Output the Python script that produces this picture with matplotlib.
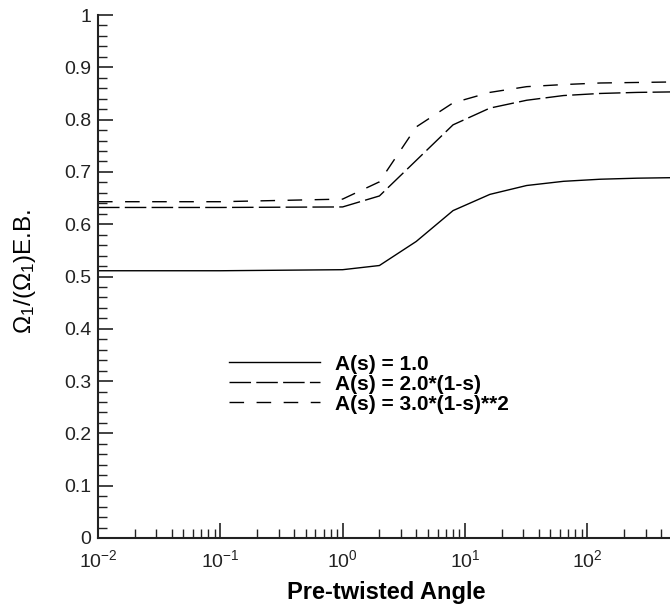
import numpy as np
import matplotlib
matplotlib.use("Agg")
from matplotlib import pyplot as plt
from matplotlib.ticker import LogLocator, MultipleLocator

plt.rcParams["font.family"] = ["Liberation Sans", "DejaVu Sans"]
plt.rcParams["mathtext.fontset"] = "custom"
plt.rcParams["mathtext.rm"] = "Liberation Sans"
plt.rcParams["mathtext.it"] = "Liberation Sans:italic"
plt.rcParams["mathtext.bf"] = "Liberation Sans:bold"

# pre-twisted angle samples
angle = [0.01, 0.1, 1, 2, 4, 8, 16, 32, 64, 128, 256, 512]
ratio_const = [0.511, 0.511, 0.513, 0.521, 0.567, 0.626, 0.657, 0.674, 0.682, 0.686, 0.688, 0.689]
ratio_linear = [0.632, 0.632, 0.633, 0.654, 0.722, 0.790, 0.822, 0.837, 0.846, 0.850, 0.852, 0.853]
ratio_quad = [0.643, 0.643, 0.648, 0.681, 0.786, 0.832, 0.852, 0.863, 0.867, 0.870, 0.871, 0.872]

labels = ["A(s) = 1.0", "A(s) = 2.0*(1-s)", "A(s) = 3.0*(1-s)**2"]
decades = [1e-2, 1e-1, 1e0, 1e1, 1e2, 1e3]
decade_labels = [r"$\mathregular{10^{-2}}$", r"$\mathregular{10^{-1}}$", r"$\mathregular{10^{0}}$",
                 r"$\mathregular{10^{1}}$", r"$\mathregular{10^{2}}$", ""]

W, H = 670, 611
fig = plt.figure(figsize=(W / 100, H / 100), dpi=100)
# axes runs past the right edge of the figure (cut off like the original)
left, right, top, bottom = 98, 709.5, 15, 538
ax = fig.add_axes([left / W, 1 - bottom / H, (right - left) / W, (bottom - top) / H])

ax.plot(angle, ratio_const, color="black", linewidth=1.0, linestyle="-")
ax.plot(angle, ratio_linear, color="black", linewidth=1.0, linestyle=(0, (15.5, 3.8)))
ax.plot(angle, ratio_quad, color="black", linewidth=1.0, linestyle=(0, (10.5, 9.0)))

ax.set_xscale("log")
ax.set_xlim(1e-2, 1e3)
ax.set_ylim(0, 1)

ax.yaxis.set_minor_locator(MultipleLocator(0.02))
ax.set_yticks(np.arange(0, 1.01, 0.1))
ax.set_yticklabels(["0"] + ["%.1f" % v for v in np.arange(0.1, 0.95, 0.1)] + ["1"])
ax.set_xticks(decades)
ax.set_xticklabels(decade_labels)
ax.xaxis.set_minor_locator(LogLocator(base=10, subs=np.arange(2, 10), numticks=20))

for s in ("top", "right"):
    ax.spines[s].set_visible(False)
for s in ("left", "bottom"):
    ax.spines[s].set_linewidth(1.5)
    ax.spines[s].set_color("#222222")

ax.tick_params(which="major", direction="in", length=10.5, width=1.2, labelsize=14,
               colors="#222222")
ax.tick_params(which="minor", direction="in", length=6.5, width=1.0, colors="#222222")
ax.tick_params(axis="y", pad=5)
ax.tick_params(axis="x", pad=8)

ax.set_xlabel("Pre-twisted Angle", fontsize=17, fontweight="bold", va="top")
ax.xaxis.set_label_coords((386 - left) / (right - left), (bottom - 581) / (bottom - top))
ax.set_ylabel(r"$\mathregular{\Omega_1}$/($\mathregular{\Omega_1}$)E.B.", fontsize=17.5)
ax.yaxis.set_label_coords((38 - left) / (right - left), (bottom - 271) / (bottom - top))

leg = ax.legend(labels, loc="upper left",
                bbox_to_anchor=((214 - left) / (right - left), (bottom - 340) / (bottom - top)),
                frameon=False, handlelength=4.4, handletextpad=0.7, labelspacing=0.05,
                borderpad=0.2, prop={"weight": "bold", "size": 15})

fig.savefig("out.png", dpi=100)
